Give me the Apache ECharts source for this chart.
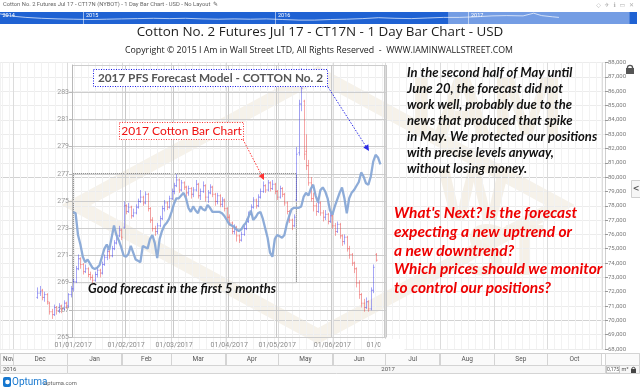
<!DOCTYPE html>
<html>
<head>
<meta charset="utf-8">
<title>Cotton No. 2 Futures Jul 17</title>
<script src="https://cdn.jsdelivr.net/npm/echarts@6.0.0/dist/echarts.min.js"></script>
<style>
html,body{margin:0;padding:0;background:#ffffff;}
#chart{width:640px;height:390px;}
</style>
</head>
<body>
<div id="chart"></div>
<script>
// ================= DATA =================
// Daily OHLC bars, July 2017 cotton (cents/lb): [open, high, low, close], one per trading day from barStart
const barStart = '2016-12-12';
const barOHLC = [
 [71.6,72.3,71.5,71.9],[71.9,72.4,71.7,72.0],[72.1,72.2,71.4,71.6],[71.6,72.0,71.3,71.8],[71.8,71.9,71.1,71.3],
 [71.2,71.3,70.4,70.6],[70.6,70.8,70.1,70.4],[70.4,71.1,70.3,70.9],[70.9,71.0,70.4,70.7],[70.7,71.2,70.5,71.0],
 [71.0,71.1,70.5,70.8],[70.8,71.4,70.7,71.2],[71.2,71.3,70.8,71.0],[71.0,71.9,70.9,71.8],[71.8,72.4,71.6,72.2],
 [72.2,72.9,72.0,72.7],[72.7,73.8,72.6,73.6],[73.6,74.6,73.5,74.3],[74.3,74.4,73.6,73.9],[73.9,74.0,73.2,73.4],
 [73.4,73.9,73.3,73.6],[73.6,73.7,73.0,73.2],[73.2,73.4,72.8,73.0],[73.0,73.2,72.6,72.8],[72.8,73.4,72.7,73.2],
 [73.2,73.7,73.0,73.5],[73.5,73.6,73.0,73.3],[73.3,74.1,73.2,73.9],[73.9,74.6,73.8,74.4],[74.4,75.0,74.2,74.8],
 [74.8,74.9,74.3,74.5],[74.5,75.2,74.4,75.0],[75.0,75.6,74.9,75.4],[75.4,76.1,75.3,75.9],[75.9,76.6,75.8,76.3],
 [76.3,76.4,75.6,75.8],[76.5,78.3,76.4,78.0],[78.0,78.1,77.4,77.6],[77.6,78.2,77.5,77.9],[77.9,78.0,77.1,77.3],
 [77.3,77.8,77.2,77.5],[77.5,78.1,77.4,77.9],[77.9,78.5,77.8,78.3],[78.3,79.1,78.2,78.6],[78.6,78.7,78.0,78.2],
 [78.2,79.0,78.1,78.8],[78.8,78.9,77.6,77.8],[77.8,77.9,76.8,77.0],[77.0,77.2,76.2,76.4],[76.4,76.6,75.9,76.2],
 [76.2,76.8,76.0,76.6],[76.6,77.3,76.5,77.1],[77.1,78.0,77.0,77.8],[77.8,78.4,77.6,78.2],[78.2,78.3,77.7,77.9],
 [77.9,78.7,77.8,78.5],[78.5,79.2,78.4,79.0],[79.0,79.6,78.8,79.4],[79.4,80.2,79.3,79.8],[79.8,79.9,78.9,79.1],
 [79.1,79.8,79.0,79.6],[79.6,79.7,79.1,79.3],[79.3,79.4,78.6,78.9],[78.9,79.4,78.7,79.2],[79.2,79.3,78.5,78.8],
 [78.8,79.3,78.6,79.1],[79.1,79.8,79.0,79.5],[79.5,79.6,78.5,78.7],[78.7,79.2,78.4,79.0],[79.0,79.7,78.9,79.4],
 [79.4,79.5,78.3,78.6],[78.6,79.1,78.2,78.9],[78.9,79.5,78.8,79.3],[79.3,79.4,78.6,78.8],[78.8,78.9,78.0,78.3],
 [78.3,78.9,78.1,78.7],[78.7,78.8,77.9,78.1],[78.1,78.6,77.9,78.4],[78.4,78.5,77.6,77.8],[77.8,77.9,77.0,77.2],
 [77.2,77.4,76.6,76.8],[76.8,76.9,76.0,76.2],[76.2,76.7,76.0,76.5],[76.5,76.6,75.5,75.9],[75.9,76.0,75.4,75.6],
 [75.6,76.2,75.5,76.0],[76.0,76.6,75.9,76.4],[76.4,77.1,76.3,76.9],[76.9,77.6,76.8,77.4],[77.4,78.1,77.3,77.9],
 [77.9,78.6,77.8,78.4],[78.4,78.5,77.8,78.0],[78.0,78.8,77.9,78.6],[78.6,79.2,78.5,79.0],[79.0,79.7,78.9,79.4],
 [79.4,79.5,78.9,79.1],[79.1,79.8,79.0,79.6],[79.6,79.7,79.0,79.2],[79.2,79.8,79.1,79.5],[79.5,79.6,78.8,79.0],
 [79.0,79.1,78.4,78.6],[78.6,79.4,78.5,79.2],[79.2,79.3,78.6,78.8],[78.8,78.9,78.0,78.2],[78.2,78.3,77.4,77.6],
 [77.6,77.7,76.8,77.0],[77.0,77.1,76.3,76.6],[76.6,77.4,76.5,77.2],[78.4,82.1,78.3,81.6],[81.7,85.4,81.5,85.1],
 [85.1,87.6,84.6,86.2],[85.3,85.4,81.2,81.6],[81.8,83.0,80.5,80.8],[80.8,81.2,79.4,79.6],[79.6,80.0,78.3,78.5],
 [78.5,78.9,77.6,78.0],[78.0,78.2,77.3,77.6],[77.6,78.5,77.5,78.2],[78.2,78.3,77.3,77.5],[77.5,77.7,76.9,77.2],
 [77.2,77.7,77.0,77.4],[77.4,77.5,76.7,76.9],[76.9,77.5,76.8,77.3],[77.3,77.4,76.4,76.6],[76.6,76.8,75.9,76.2],
 [76.2,76.9,76.1,76.7],[76.7,76.8,75.7,75.9],[75.9,76.0,75.2,75.5],[75.5,76.0,75.3,75.8],[75.8,75.9,74.8,75.0],
 [75.0,75.2,74.3,74.6],[74.6,74.7,73.8,74.0],[74.0,74.1,73.3,73.6],[73.6,73.7,72.3,72.6],[72.6,72.8,71.5,71.8],
 [71.8,71.9,70.9,71.2],[71.2,71.5,70.6,70.9],[70.9,71.6,70.8,71.3],[71.3,71.4,70.6,70.8],[70.8,72.3,70.7,72.1],
 [72.1,73.9,71.9,73.7],[74.6,74.7,74.1,74.2]
];

// 2017 PFS forecast model values, one per trading day from forecastStart
const forecastStart = '2017-01-02';
const forecastValues = [
 274.2,274.1,272.5,271.8,270.9,270.5,270.7,270.4,270.1,270.0,
 270.1,270.3,270.9,271.5,271.8,271.4,272.3,273.2,272.5,272.1,
 271.6,271.0,270.9,271.1,271.7,271.2,270.7,270.6,270.5,271.7,
 271.6,271.5,272.2,272.5,271.9,270.8,272.2,272.8,273.2,273.4,
 273.7,274.2,274.8,275.2,275.2,275.4,275.6,275.2,274.5,274.2,
 274.6,274.3,274.1,274.6,274.4,274.3,274.7,274.5,274.2,274.2,
 274.2,274.2,274.1,273.9,273.6,273.3,273.2,273.1,272.9,272.8,
 272.9,273.2,273.4,273.8,274.3,273.6,273.8,274.1,274.2,273.7,
 273.0,272.3,271.2,270.9,272.2,272.5,272.4,272.3,272.5,273.3,
 273.9,274.4,274.5,274.5,274.5,274.6,275.3,275.6,275.4,275.9,
 276.2,275.4,274.9,275.8,276.0,275.7,275.2,274.3,274.0,274.6,
 275.1,275.6,276.0,275.2,274.1,275.2,275.6,275.8,276.1,276.4,
 277.1,276.8,276.3,276.2,276.8,277.9,278.4,278.2,277.7
];

// Axis ranges / ticks
const priceMin = 68, priceMax = 88, priceStep = 1;          // right axis (x1000 in labels)
const modelMin = 265, modelMax = 285, modelStep = 2;         // forecast model axis
const innerFirstDay = '2016-12-12', innerLastDay = '2017-07-03';
const modelLastDay = '2017-07-03';

// "Good forecast" box
const goodBoxHigh = 277, goodBoxLow = 269, goodBoxFrom = '2017-01-02', goodBoxTo = '2017-05-11';

// Time strip
const monthStarts = ['2016-11-01','2016-12-01','2017-01-01','2017-02-01','2017-03-01','2017-04-01','2017-05-01','2017-06-01','2017-07-01','2017-08-01','2017-09-01','2017-10-01','2017-11-01'];
const monthNames = ['Nov','Dec','Jan','Feb','Mar','Apr','May','Jun','Jul','Aug','Sep','Oct'];
const yearStarts = ['2016-01-01','2017-01-01','2018-01-01'];
const yearNames = ['2016','2017'];
const viewFrom = '2016-11-23T16:48:00', viewTo = '2017-11-02T21:30:00';

// Navigator history
const navFrom = '2014-07-28', navTo = '2017-11-17';
const navYears = ['2014-01-01','2015-01-01','2016-01-01','2017-01-01'];
const navYearNames = ['2014','2015','2016','2017'];
const navDates = ['2014-07-28','2014-08-15','2014-09-15','2014-10-15','2014-11-15','2014-12-15',
 '2015-01-15','2015-02-15','2015-03-15','2015-04-15','2015-05-15','2015-06-15','2015-07-15','2015-08-15','2015-09-15','2015-10-15','2015-11-15','2015-12-15',
 '2016-01-15','2016-02-15','2016-03-15','2016-04-15','2016-05-15','2016-06-15','2016-07-15','2016-08-15','2016-09-15','2016-10-15','2016-11-15','2016-12-15',
 '2017-01-15','2017-02-15','2017-03-15','2017-04-15','2017-05-05','2017-05-20','2017-06-10','2017-06-22'];
const navPrices = [84,77,72,69,67,66, 65,66,67,68,69,68,69,67,66,67,66,67, 65,63,63,65,66,68,71,69,68,70,72,72, 74,77,78,77,86,78,74,72];

// Texts
const headerText = 'Cotton No. 2 Futures Jul 17 - CT17N (NYBOT) - 1 Day Bar Chart - USD - No Layout  \u270E';
const titleText = 'Cotton No. 2 Futures Jul 17 - CT17N - 1 Day Bar Chart - USD';
const copyrightText = 'Copyright \u00A9 2015 I Am in Wall Street LTD, All Rights Reserved  -  WWW.IAMINWALLSTREET.COM';
const note1 = ['In the second half of May until','June 20, the forecast did not','work well, probably due to the','news that produced that spike','in May. We protected our positions','with precise levels anyway,','without losing money.'];
const note2 = ["What's Next? Is the forecast",'expecting a new uptrend or','a new downtrend?','Which prices should we monitor','to control our positions?'];

// ================= LAYOUT =================
const LY = {outerTop:62.5, outerBottom:349, plotRight:605, innerTop:65, innerBottom:337, innerLeft:36, dayW:2.4, modelLeft:72,
  monthTop:353, monthH:12, yearTop:365, yearH:8, navTop:12, navH:12, navW:637};
const pxPerCent = (LY.outerBottom - LY.outerTop) / (priceMax - priceMin);
const barsYMin = priceMin + (LY.outerBottom - LY.innerBottom) / pxPerCent;
const barsYMax = priceMin + (LY.outerBottom - LY.innerTop) / pxPerCent;

const ts = s => new Date(s.length > 10 ? s : s + 'T00:00:00').getTime();
function weekdays(from, to) {
  const out = []; const d = new Date(from + 'T12:00:00'); const end = new Date(to + 'T12:00:00');
  while (d <= end) { const w = d.getDay();
    if (w > 0 && w < 6) out.push(d.getFullYear() + '-' + String(d.getMonth()+1).padStart(2,'0') + '-' + String(d.getDate()).padStart(2,'0'));
    d.setDate(d.getDate() + 1); }
  return out;
}
const innerDays = weekdays(innerFirstDay, innerLastDay);
const modelDays = weekdays(forecastStart, modelLastDay);
const barOffset = innerDays.indexOf(barStart);
const isMonthFirst = (idx) => idx > 0 && innerDays[idx].slice(5,7) !== innerDays[idx-1].slice(5,7);

const RED = 'rgba(236,60,60,0.45)', BLUE = 'rgba(60,60,236,0.45)';

function renderOHLC(params, api) {
  const i = api.value(0), o = api.value(1), h = api.value(2), l = api.value(3), c = api.value(4);
  const pH = api.coord([i, h]), pL = api.coord([i, l]), pO = api.coord([i, o]), pC = api.coord([i, c]);
  const col = c >= o ? BLUE : RED; const t = 1.2; const x = Math.round(pH[0]) + 0.5;
  return {type:'group', children:[
    {type:'line', shape:{x1:x, y1:pH[1], x2:x, y2:pL[1]}, style:{stroke:col, lineWidth:1}},
    {type:'line', shape:{x1:x - t, y1:pO[1], x2:x, y2:pO[1]}, style:{stroke:col, lineWidth:1}},
    {type:'line', shape:{x1:x, y1:pC[1], x2:x + t, y2:pC[1]}, style:{stroke:col, lineWidth:1}}
  ]};
}
function cellRenderer(names, st) {
  return (params, api) => {
    const cs = params.coordSys;
    const x0 = api.coord([api.value(0), 0])[0], x1 = api.coord([api.value(1), 0])[0];
    const a = Math.max(x0, cs.x), b = Math.min(x1, cs.x + cs.width);
    if (b <= a) return null;
    let tx = (x0 + x1) / 2, align = 'center';
    if (tx < cs.x + 10) { tx = a + 3; align = 'left'; }
    return {type:'group', children:[
      {type:'rect', shape:{x:Math.round(a) + 0.5, y:cs.y + 0.5, width:Math.round(b - a), height:cs.height}, style:{fill:st.fill, stroke:st.stroke, lineWidth:1}},
      {type:'text', style:{text:names[api.value(2)], x:tx, y:cs.y + cs.height / 2 + 0.5, align:align, verticalAlign:'middle', fill:st.color, font:st.font}}
    ]};
  };
}
function cellData(starts) {
  const d = []; for (let k = 0; k < starts.length - 1; k++) d.push([ts(starts[k]), ts(starts[k+1]), k, 0]); return d;
}

const hidden = {show:false};
const axisOff = {axisLine:hidden, axisTick:hidden, axisLabel:hidden, splitLine:hidden};
const splitColors = []; for (let v = priceMin; v <= priceMax; v += priceStep) splitColors.push(v % 10 === 0 ? '#d2d2d2' : '#ececec');

const option = {
  animation:false,
  grid:[
    {left:0, top:LY.outerTop, width:LY.plotRight, height:LY.outerBottom - LY.outerTop, outerBoundsMode:'none'},
    {left:LY.innerLeft, top:LY.innerTop, width:innerDays.length * LY.dayW, height:LY.innerBottom - LY.innerTop, outerBoundsMode:'none'},
    {left:LY.modelLeft, top:LY.innerTop, width:modelDays.length * LY.dayW, height:LY.innerBottom - LY.innerTop, outerBoundsMode:'none'},
    {left:0, top:LY.monthTop, width:LY.plotRight, height:LY.monthH, outerBoundsMode:'none'},
    {left:0, top:LY.yearTop, width:LY.plotRight, height:LY.yearH, outerBoundsMode:'none'},
    {left:0, top:LY.navTop, width:LY.navW, height:LY.navH, show:true, backgroundColor:'#1f62d3', borderWidth:0, outerBoundsMode:'none'}
  ],
  xAxis:[
    {gridIndex:0, type:'time', min:ts(viewFrom), max:ts(viewTo), minInterval:7*864e5, maxInterval:7*864e5,
      axisLine:hidden, axisTick:hidden, axisLabel:hidden, splitLine:{show:true, lineStyle:{color:'#f2f2f2', width:1}}},
    {gridIndex:1, type:'category', data:innerDays, boundaryGap:true, z:3,
      axisLine:hidden, axisTick:hidden,
      axisLabel:{show:true, interval:(idx) => isMonthFirst(idx), margin:5, color:'#8a8a8a', fontSize:7, fontFamily:'Roboto',
        formatter:(v) => '01/' + v.slice(5,7) + '/' + v.slice(0,4)},
      splitLine:{show:true, interval:(idx) => isMonthFirst(idx), lineStyle:{color:'#c9c9c9', width:1}}},
    Object.assign({gridIndex:2, type:'category', data:modelDays, boundaryGap:true}, axisOff),
    Object.assign({gridIndex:3, type:'time', min:ts(viewFrom), max:ts(viewTo)}, axisOff),
    Object.assign({gridIndex:4, type:'time', min:ts(viewFrom), max:ts(viewTo)}, axisOff),
    Object.assign({gridIndex:5, type:'time', min:ts(navFrom), max:ts(navTo)}, axisOff)
  ],
  yAxis:[
    {gridIndex:0, type:'value', position:'right', min:priceMin, max:priceMax, interval:priceStep,
      axisLine:{show:true, lineStyle:{color:'#cfcfcf'}}, axisTick:{show:true, length:3, lineStyle:{color:'#999'}},
      axisLabel:{margin:3, fontSize:6, fontFamily:'Roboto', color:'#7a7a7a', formatter:(v) => Math.round(v * 1000).toLocaleString('en-US')},
      splitLine:{show:true, lineStyle:{color:splitColors, width:1}}},
    Object.assign({gridIndex:1, type:'value', min:barsYMin, max:barsYMax}, axisOff),
    {gridIndex:2, type:'value', min:0, max:modelMax - modelMin, interval:modelStep, z:3,
      axisLine:{show:true, lineStyle:{color:'#b8b8b8'}}, axisTick:{show:true, length:3, lineStyle:{color:'#b8b8b8'}},
      axisLabel:{margin:3, fontSize:7, fontFamily:'Roboto', color:'#9a9a9a', showMaxLabel:false, formatter:(v) => String(v + modelMin)},
      splitLine:{show:true, lineStyle:{color:'#cdcdcd', width:1}}},
    Object.assign({gridIndex:3, type:'value', min:0, max:1}, axisOff),
    Object.assign({gridIndex:4, type:'value', min:0, max:1}, axisOff),
    Object.assign({gridIndex:5, type:'value', min:50, max:90}, axisOff)
  ],
  series:[
    {type:'custom', name:'monthLines', xAxisIndex:0, yAxisIndex:0, z:1, silent:true,
      data:monthStarts.map(s => [ts(s), priceMin]), encode:{x:0, y:1},
      renderItem:(params, api) => { const cs = params.coordSys; const x = Math.round(api.coord([api.value(0), priceMin])[0]) + 0.5;
        if (x < cs.x || x > cs.x + cs.width) return null;
        return {type:'line', shape:{x1:x, y1:cs.y, x2:x, y2:cs.y + cs.height}, style:{stroke:'#dcdcdc', lineWidth:1}}; }},
    {type:'custom', name:'2017 Cotton Bar Chart', xAxisIndex:1, yAxisIndex:1, z:4, silent:true,
      data:barOHLC.map((b, i) => [i + barOffset, b[0], b[1], b[2], b[3]]), encode:{x:0, y:[1,2,3,4]},
      renderItem:renderOHLC},
    {type:'line', name:'2017 PFS Forecast Model', xAxisIndex:2, yAxisIndex:2, z:5, silent:true, symbol:'none',
      data:forecastValues.map(v => +(v - modelMin).toFixed(2)),
      lineStyle:{color:'#88a8d6', width:2.3, opacity:0.95},
      markArea:{silent:true, itemStyle:{color:'rgba(0,0,0,0)', borderColor:'#444', borderWidth:1, borderType:'dotted'},
        data:[[{xAxis:goodBoxFrom, yAxis:goodBoxHigh - modelMin}, {xAxis:goodBoxTo, yAxis:goodBoxLow - modelMin}]]}},
    {type:'custom', name:'months', xAxisIndex:3, yAxisIndex:3, z:3, silent:true,
      data:cellData(monthStarts), encode:{x:[0,1], y:3},
      renderItem:cellRenderer(monthNames, {fill:'#fafafa', stroke:'#d4d4d4', color:'#555', font:'6.5px Roboto'})},
    {type:'custom', name:'years', xAxisIndex:4, yAxisIndex:4, z:3, silent:true,
      data:cellData(yearStarts), encode:{x:[0,1], y:3},
      renderItem:cellRenderer(yearNames, {fill:'#f7f7f7', stroke:'#d4d4d4', color:'#555', font:'6px Roboto'})},
    {type:'line', name:'nav', xAxisIndex:5, yAxisIndex:5, z:4, silent:true, symbol:'none',
      data:navDates.map((d, i) => [ts(d), navPrices[i]]), lineStyle:{color:'rgba(255,255,255,0.85)', width:0.8},
      markArea:{silent:true, itemStyle:{color:'rgba(255,255,255,0.38)'}, data:[[{xAxis:ts(viewFrom)}, {xAxis:ts(viewTo)}]]}},
    {type:'custom', name:'navYears', xAxisIndex:5, yAxisIndex:5, z:5, silent:true,
      data:navYears.map((s, k) => [ts(s), 50, k]), encode:{x:0, y:1},
      renderItem:(params, api) => { const cs = params.coordSys; let x = Math.round(api.coord([api.value(0), 50])[0]) + 0.5;
        const inside = x >= cs.x; const children = [];
        if (inside) children.push({type:'line', shape:{x1:x, y1:cs.y, x2:x, y2:cs.y + cs.height}, style:{stroke:'rgba(255,255,255,0.55)', lineWidth:1}});
        children.push({type:'text', style:{text:navYearNames[api.value(2)], x:(inside ? x : cs.x) + 2.5, y:cs.y + 3.5, verticalAlign:'middle', fill:'#ffffff', font:'5.5px Roboto'}});
        return {type:'group', children}; }}
  ],
  graphic:{elements:[]}
};

// ================= ANNOTATIONS & DECOR =================
const G = option.graphic.elements;
// watermark
G.push({type:'polygon', z:0, silent:true, shape:{points:[[318,74],[560,205],[318,336],[76,205]]}, style:{fill:'none', stroke:'#f6f2ea', lineWidth:14}});
G.push({type:'text', x:408, y:112, z:0, silent:true, style:{text:'IAM', font:'bold 80px "Open Sans"', fill:'#f4efe5', verticalAlign:'middle'}});
G.push({type:'text', x:438, y:200, z:0, silent:true, style:{text:'W', font:'bold 74px "Open Sans"', fill:'#f5f0e7', verticalAlign:'middle'}});
G.push({type:'text', x:466, y:255, z:0, silent:true, style:{text:'ST', font:'bold 70px "Open Sans"', fill:'#f5f0e7', verticalAlign:'middle'}});
// header
G.push({type:'text', x:3, y:5, z:50, style:{text:headerText, font:'5.8px Roboto', fill:'#666', verticalAlign:'middle'}});
G.push({type:'text', x:634, y:5, z:50, style:{text:'\u25C7  \u2708  \u2139  \u25AD  \u2715', font:'6px "DejaVu Sans"', fill:'#b0b0b0', align:'right', verticalAlign:'middle'}});
G.push({type:'text', x:320, y:32.5, z:50, style:{text:titleText, font:'13.4px "Open Sans"', fill:'#1e1e1e', align:'center', verticalAlign:'middle'}});
G.push({type:'text', x:319, y:50, z:50, style:{text:copyrightText, font:'8.8px "Open Sans"', fill:'#222', align:'center', verticalAlign:'middle'}});
// notes
G.push({type:'text', x:407, y:65, z:50, style:{text:note1.join('\n'), font:'italic bold 13px Lato', fill:'#111', lineHeight:16, verticalAlign:'top'}});
G.push({type:'text', x:394, y:203.5, z:50, style:{text:note2.join('\n'), font:'italic bold 15.5px Lato', fill:'#ee0000', lineHeight:18.8, verticalAlign:'top'}});
G.push({type:'text', x:88, y:289, z:50, style:{text:'Good forecast in the first 5 months', font:'italic bold 12.9px Lato', fill:'#111', verticalAlign:'middle'}});
// blue model box + arrow
G.push({type:'rect', z:40, shape:{x:93.5, y:69.5, width:234, height:17}, style:{fill:'#ffffff', stroke:'#1a1ae6', lineWidth:1, lineDash:[1,1.5]}});
G.push({type:'text', x:210.5, y:78, z:50, style:{text:'2017 PFS Forecast Model - COTTON No. 2', font:'bold 11.8px Lato', fill:'#555', align:'center', verticalAlign:'middle'}});
G.push({type:'line', z:40, shape:{x1:328, y1:87, x2:366, y2:146.5}, style:{stroke:'#2a2ae6', lineWidth:1, lineDash:[1.5,1.5]}});
G.push({type:'polygon', z:40, shape:{points:[[369,151],[363.3,147.5],[368.3,144.3]]}, style:{fill:'#2a2ae6'}});
// red bar box + arrow
G.push({type:'rect', z:40, shape:{x:119.5, y:122.5, width:124, height:17}, style:{fill:'rgba(255,255,255,0.9)', stroke:'#ff3333', lineWidth:1, lineDash:[1,1.5]}});
G.push({type:'text', x:181.5, y:131, z:50, style:{text:'2017 Cotton Bar Chart', font:'12px Lato', fill:'#ee1111', align:'center', verticalAlign:'middle'}});
G.push({type:'line', z:40, shape:{x1:243, y1:139.5, x2:261.5, y2:175}, style:{stroke:'#ff3333', lineWidth:1, lineDash:[1.5,1.5]}});
G.push({type:'polygon', z:40, shape:{points:[[264,180],[258.6,176],[264,173.3]]}, style:{fill:'#ff3333'}});
// cover the clipped July date label like the pasted image edge
G.push({type:'rect', z:60, shape:{x:380.5, y:339, width:24, height:12}, style:{fill:'#ffffff'}});
// strip borders and right side cells
G.push({type:'line', z:45, shape:{x1:0, y1:353.5, x2:640, y2:353.5}, style:{stroke:'#cfcfcf', lineWidth:1}});
G.push({type:'rect', z:45, shape:{x:605.5, y:353.5, width:34, height:12}, style:{fill:'#fafafa', stroke:'#d4d4d4', lineWidth:1}});
G.push({type:'rect', z:45, shape:{x:605.5, y:365.5, width:34, height:8}, style:{fill:'#f7f7f7', stroke:'#d4d4d4', lineWidth:1}});
G.push({type:'rect', z:46, shape:{x:606.5, y:366, width:13, height:7}, style:{fill:'#fff', stroke:'#bbb', lineWidth:0.8}});
G.push({type:'text', x:613, y:369.7, z:47, style:{text:'0,175', font:'5px Roboto', fill:'#555', align:'center', verticalAlign:'middle'}});
G.push({type:'text', x:625, y:369.7, z:47, style:{text:'m\u00B2', font:'5.5px Roboto', fill:'#555', align:'center', verticalAlign:'middle'}});
G.push({type:'rect', z:47, shape:{x:631, y:369, width:5, height:4}, style:{fill:'#444'}});
G.push({type:'arc', z:47, shape:{cx:633.5, cy:369, r:1.7, startAngle:Math.PI, endAngle:2*Math.PI}, style:{fill:'none', stroke:'#444', lineWidth:1}});
// top-right lock and side tab
G.push({type:'rect', z:47, shape:{x:626, y:68, width:8, height:6}, style:{fill:'#555'}});
G.push({type:'arc', z:47, shape:{cx:630, cy:68, r:2.6, startAngle:Math.PI, endAngle:2*Math.PI}, style:{fill:'none', stroke:'#555', lineWidth:1.3}});
G.push({type:'rect', z:47, shape:{x:631.5, y:180.5, width:9, height:17}, style:{fill:'#f6f6f6', stroke:'#cfcfcf', lineWidth:1}});
G.push({type:'text', x:636, y:189, z:48, style:{text:'<', font:'bold 8px "DejaVu Sans"', fill:'#555', align:'center', verticalAlign:'middle'}});
// Optuma logo
G.push({type:'rect', z:47, shape:{x:3, y:377, width:8, height:10, r:2}, style:{fill:'#1677cf'}});
G.push({type:'circle', z:48, shape:{cx:7.5, cy:382, r:2.3}, style:{fill:'#ffffff'}});
G.push({type:'text', x:12, y:382.5, z:47, style:{text:'Optuma', font:'10px Roboto', fill:'#1677cf', verticalAlign:'middle'}});
G.push({type:'text', x:44, y:384, z:47, style:{text:'optuma.com', font:'5.8px Roboto', fill:'#666', verticalAlign:'middle'}});

const chart = echarts.init(document.getElementById('chart'), null, {renderer:'canvas', width:640, height:390});
chart.setOption(option);
</script>
</body>
</html>
